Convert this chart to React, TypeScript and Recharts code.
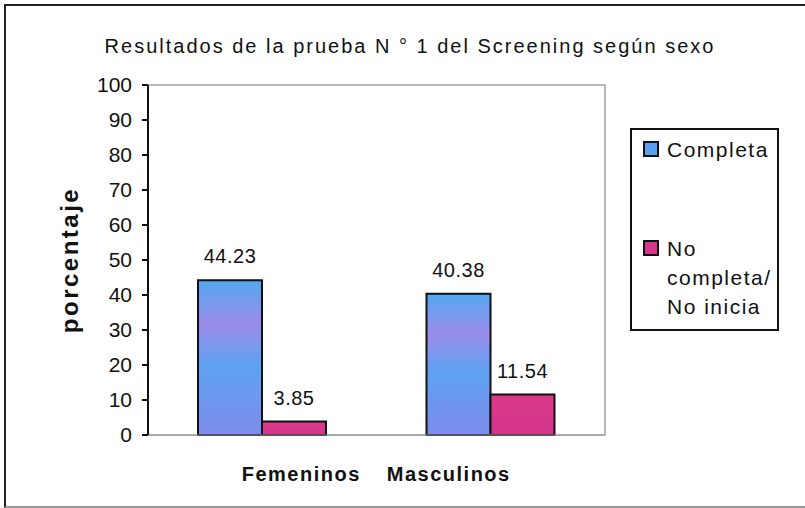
import React from "react";
import { BarChart, Bar, XAxis, YAxis, Legend, LabelList, ReferenceArea } from "recharts";

// values
const categories = ["Femeninos", "Masculinos"];
const completa = [44.23, 40.38];
const noCompleta = [3.85, 11.54];
const seriesNames = ["Completa", "No completa/ No inicia"];
const yTicks = [0, 10, 20, 30, 40, 50, 60, 70, 80, 90, 100];

const data = categories.map((name, i) => ({
  name,
  completa: completa[i],
  noCompleta: noCompleta[i],
}));

const FONT = "'Liberation Sans', Arial, sans-serif";
const legendColors = ["#5a9ff0", "#d8368a"];
// the category labels sit closer together than the bar groups
const tickShift = [39, -42];

const CategoryTick = (props: any) => {
  const { x, y, payload, index } = props;
  return (
    <text
      x={x + (tickShift[index] || 0)}
      y={y + 38}
      textAnchor="middle"
      fontFamily={FONT}
      fontWeight="bold"
      fontSize={20}
      letterSpacing={1.5}
      fill="#111"
    >
      {payload.value}
    </text>
  );
};

const YTitle = (props: any) => {
  const vb = props.viewBox;
  const cx = vb.x + 78;
  const cy = vb.y + vb.height / 2;
  return (
    <text
      x={cx}
      y={cy}
      transform={`rotate(-90 ${cx} ${cy})`}
      textAnchor="middle"
      fontFamily={FONT}
      fontWeight="bold"
      fontSize={24}
      letterSpacing={2.5}
      fill="#111"
    >
      porcentaje
    </text>
  );
};

const LegendBox = () => (
  <div style={{ fontFamily: FONT, fontSize: 21, letterSpacing: 1.5, color: "#111", padding: "5px 0 0 11px" }}>
    {seriesNames.map((n, i) => (
      <div key={n} style={{ display: "flex", alignItems: "flex-start", marginBottom: i === 0 ? 70 : 0 }}>
        <div
          style={{
            width: 12,
            height: 12,
            marginTop: 6,
            marginRight: 8,
            background: legendColors[i],
            border: "2px solid #111",
            flexShrink: 0,
          }}
        />
        <div style={{ width: 112, lineHeight: "29px" }}>{n}</div>
      </div>
    ))}
  </div>
);

export default function App() {
  return (
    <div
      style={{
        position: "absolute",
        left: 0,
        top: 0,
        width: 805,
        height: 508,
        overflow: "hidden",
        background: "#fff",
      }}
    >
      <div
        style={{
          position: "absolute",
          left: 4,
          top: 4,
          width: 820,
          height: 500,
          borderTop: "2px solid #222",
          borderLeft: "2px solid #222",
          borderBottom: "2px solid #999",
        }}
      />
      <div
        style={{
          position: "absolute",
          left: 0,
          top: 36,
          width: 820,
          textAlign: "center",
          fontFamily: FONT,
          fontSize: 20,
          lineHeight: "20px",
          letterSpacing: 2,
          color: "#111",
        }}
      >
        Resultados de la prueba N ° 1 del Screening según sexo
      </div>
      <BarChart
        width={805}
        height={508}
        data={data}
        margin={{ top: 85, right: 200, bottom: 0, left: 0 }}
        barGap={0}
        style={{ position: "absolute", left: 0, top: 0 }}
      >
        <defs>
          <linearGradient id="blueGrad" x1="0" y1="0" x2="0" y2="1">
            <stop offset="0%" stopColor="#54a8f2" />
            <stop offset="28%" stopColor="#9a8ce9" />
            <stop offset="55%" stopColor="#5ea2f1" />
            <stop offset="100%" stopColor="#7e8cec" />
          </linearGradient>
          <linearGradient id="pinkGrad" x1="0" y1="0" x2="0" y2="1">
            <stop offset="0%" stopColor="#dc3a88" />
            <stop offset="100%" stopColor="#d2348c" />
          </linearGradient>
        </defs>
        <ReferenceArea y1={0} y2={100} fill="none" stroke="#a0a4a4" strokeWidth={1.5} />
        <XAxis
          dataKey="name"
          height={73}
          axisLine={{ stroke: "#9a9a9a", strokeWidth: 1 }}
          tickLine={false}
          tick={<CategoryTick />}
          interval={0}
        />
        <YAxis
          width={148}
          domain={[0, 100]}
          ticks={yTicks}
          interval={0}
          axisLine={{ stroke: "#111", strokeWidth: 2 }}
          tickLine={{ stroke: "#111", strokeWidth: 2 }}
          tickSize={6}
          tickMargin={10}
          tick={{ fontFamily: FONT, fontSize: 21, fill: "#111" }}
          label={{ value: "porcentaje", content: (p: any) => <YTitle {...p} /> }}
        />
        <Legend
          layout="vertical"
          align="center"
          verticalAlign="middle"
          content={<LegendBox />}
          wrapperStyle={{
            left: 630,
            top: 128,
            width: 149,
            height: 203,
            border: "2px solid #111",
            boxSizing: "border-box",
            background: "#fff",
          }}
        />
        <Bar
          dataKey="completa"
          name={seriesNames[0]}
          fill="url(#blueGrad)"
          stroke="#111"
          strokeWidth={2}
          barSize={64}
          isAnimationActive={false}
        >
          <LabelList
            dataKey="completa"
            position="top"
            offset={17}
            style={{ fontFamily: FONT, fontSize: 20, letterSpacing: 0.5, fill: "#111" }}
          />
        </Bar>
        <Bar
          dataKey="noCompleta"
          name={seriesNames[1]}
          fill="url(#pinkGrad)"
          stroke="#111"
          strokeWidth={2}
          barSize={64}
          isAnimationActive={false}
        >
          <LabelList
            dataKey="noCompleta"
            position="top"
            offset={17}
            style={{ fontFamily: FONT, fontSize: 20, letterSpacing: 0.5, fill: "#111" }}
          />
        </Bar>
      </BarChart>
    </div>
  );
}
